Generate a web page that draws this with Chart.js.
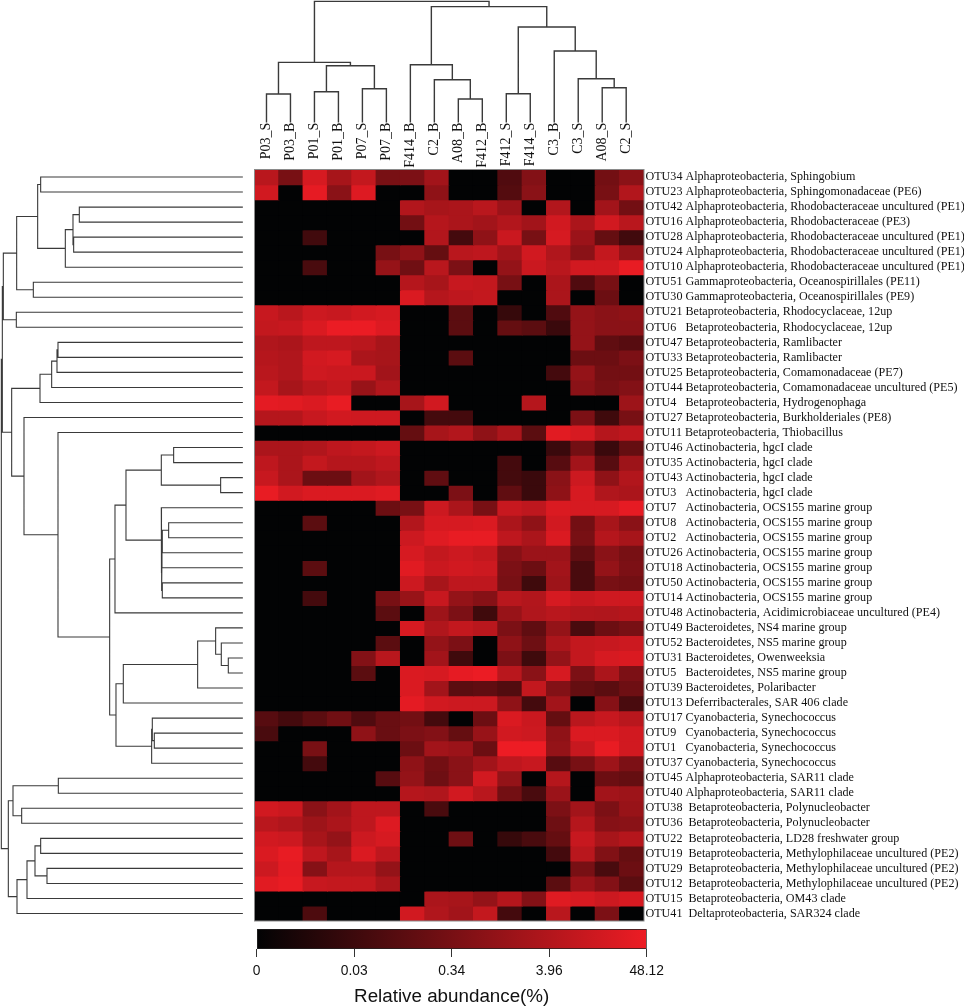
<!DOCTYPE html>
<html><head><meta charset="utf-8">
<style>
html,body{margin:0;padding:0;background:#fff;width:964px;height:1008px;overflow:hidden}
canvas{position:absolute;display:block}
</style>
<script src="https://cdn.jsdelivr.net/npm/chart.js@4/dist/chart.umd.min.js"></script>
</head><body>
<canvas id="top" style="left:254px;top:0;width:390px;height:172px" width="390" height="172"></canvas>
<canvas id="left" style="left:0;top:169px;width:243px;height:753px" width="243" height="753"></canvas>
<canvas id="heat" style="left:254px;top:159px;width:710px;height:773px" width="710" height="773"></canvas>
<canvas id="bar" style="left:230px;top:920px;width:450px;height:88px" width="450" height="88"></canvas>
<script>
const sampleLabels = ["P03_S","P03_B","P01_S","P01_B","P07_S","P07_B","F414_B","C2_B","A08_B","F412_B","F412_S","F414_S","C3_B","C3_S","A08_S","C2_S"];
const otuLabels = [
"OTU34 Alphaproteobacteria, Sphingobium",
"OTU23 Alphaproteobacteria, Sphingomonadaceae (PE6)",
"OTU42 Alphaproteobacteria, Rhodobacteraceae uncultured (PE1)",
"OTU16 Alphaproteobacteria, Rhodobacteraceae (PE3)",
"OTU28 Alphaproteobacteria, Rhodobacteraceae uncultured (PE1)",
"OTU24 Alphaproteobacteria, Rhodobacteraceae uncultured (PE1)",
"OTU10 Alphaproteobacteria, Rhodobacteraceae uncultured (PE1)",
"OTU51 Gammaproteobacteria, Oceanospirillales (PE11)",
"OTU30 Gammaproteobacteria, Oceanospirillales (PE9)",
"OTU21 Betaproteobacteria, Rhodocyclaceae, 12up",
"OTU6   Betaproteobacteria, Rhodocyclaceae, 12up",
"OTU47 Betaproteobacteria, Ramlibacter",
"OTU33 Betaproteobacteria, Ramlibacter",
"OTU25 Betaproteobacteria, Comamonadaceae (PE7)",
"OTU44 Betaproteobacteria, Comamonadaceae uncultured (PE5)",
"OTU4   Betaproteobacteria, Hydrogenophaga",
"OTU27 Betaproteobacteria, Burkholderiales (PE8)",
"OTU11 Betaproteobacteria, Thiobacillus",
"OTU46 Actinobacteria, hgcI clade",
"OTU35 Actinobacteria, hgcI clade",
"OTU43 Actinobacteria, hgcI clade",
"OTU3   Actinobacteria, hgcI clade",
"OTU7   Actinobacteria, OCS155 marine group",
"OTU8   Actinobacteria, OCS155 marine group",
"OTU2   Actinobacteria, OCS155 marine group",
"OTU26 Actinobacteria, OCS155 marine group",
"OTU18 Actinobacteria, OCS155 marine group",
"OTU50 Actinobacteria, OCS155 marine group",
"OTU14 Actinobacteria, OCS155 marine group",
"OTU48 Actinobacteria, Acidimicrobiaceae uncultured (PE4)",
"OTU49 Bacteroidetes, NS4 marine group",
"OTU52 Bacteroidetes, NS5 marine group",
"OTU31 Bacteroidetes, Owenweeksia",
"OTU5   Bacteroidetes, NS5 marine group",
"OTU39 Bacteroidetes, Polaribacter",
"OTU13 Deferribacterales, SAR 406 clade",
"OTU17 Cyanobacteria, Synechococcus",
"OTU9   Cyanobacteria, Synechococcus",
"OTU1   Cyanobacteria, Synechococcus",
"OTU37 Cyanobacteria, Synechococcus",
"OTU45 Alphaproteobacteria, SAR11 clade",
"OTU40 Alphaproteobacteria, SAR11 clade",
"OTU38  Betaproteobacteria, Polynucleobacter",
"OTU36  Betaproteobacteria, Polynucleobacter",
"OTU22  Betaproteobacteria, LD28 freshwater group",
"OTU19  Betaproteobacteria, Methylophilaceae uncultured (PE2)",
"OTU29  Betaproteobacteria, Methylophilaceae uncultured (PE2)",
"OTU12  Betaproteobacteria, Methylophilaceae uncultured (PE2)",
"OTU15  Betaproteobacteria, OM43 clade",
"OTU41  Deltaproteobacteria, SAR324 clade"];
// colour-scale position of each cell (0 = abundance 0, 100 = abundance 48.12)
const heatValues = [
[78,50,90,70,82,50,52,68,0,0,33,55,0,0,48,58],
[88,0,97,58,93,0,0,60,0,0,35,58,0,0,50,75],
[0,0,0,0,0,0,75,70,72,78,65,0,75,0,68,48],
[0,0,0,0,0,0,48,76,72,68,75,68,88,72,88,78],
[0,0,27,0,0,0,0,75,28,60,85,50,90,65,42,27],
[0,0,0,0,0,50,60,42,78,80,68,88,74,58,82,62],
[0,0,30,0,0,63,47,78,52,0,62,85,78,88,88,98],
[0,0,0,0,0,0,76,70,84,82,50,0,72,33,50,0],
[0,0,0,0,0,0,92,76,80,82,0,0,72,0,45,0],
[84,78,86,84,88,90,0,0,38,0,22,0,33,62,58,60],
[82,84,92,99,99,93,0,0,38,0,42,38,24,62,58,58],
[74,72,80,80,78,70,0,0,0,0,0,0,0,62,40,36],
[76,74,88,90,72,70,0,0,38,0,0,0,0,45,45,52],
[78,74,87,85,85,68,0,0,0,0,0,0,28,62,48,48],
[82,70,78,82,64,75,0,0,0,0,0,0,0,58,50,55],
[96,95,92,98,0,0,70,88,0,0,0,76,0,0,0,66],
[76,76,84,88,87,87,0,28,28,0,0,0,0,52,26,50],
[0,0,0,0,0,0,42,70,75,60,72,38,95,90,76,80],
[72,72,74,80,82,86,0,0,0,0,0,0,24,48,24,42],
[80,72,82,76,76,80,0,0,0,0,28,0,36,68,36,66],
[84,72,45,45,68,74,0,40,0,0,28,24,58,86,60,75],
[98,88,92,92,92,94,0,0,52,0,40,24,60,90,74,72],
[0,0,0,0,0,45,50,86,72,50,84,80,92,90,90,97],
[0,0,38,0,0,0,75,90,90,92,72,60,88,48,70,58],
[0,0,0,0,0,0,86,94,98,98,80,72,92,50,76,70],
[0,0,0,0,0,0,90,82,86,82,56,65,65,40,58,50],
[0,0,38,0,0,0,95,85,88,86,52,45,68,30,62,52],
[0,0,0,0,0,0,86,70,80,80,50,26,66,30,50,48],
[0,0,28,0,0,50,64,84,62,56,78,75,90,84,87,87],
[0,0,0,0,0,38,0,66,52,26,64,74,78,75,74,76],
[0,0,0,0,0,0,90,74,82,78,52,40,62,30,45,50],
[0,0,0,0,0,38,0,62,52,0,60,46,72,82,84,86],
[0,0,0,0,55,78,0,68,26,0,52,26,62,82,90,92],
[0,0,0,0,38,0,92,90,97,99,78,58,90,52,72,52],
[0,0,0,0,0,0,92,68,38,40,34,82,55,42,38,46],
[0,0,0,0,0,0,96,88,86,86,60,28,68,0,56,30],
[36,28,38,47,33,44,48,28,0,45,92,85,42,78,84,78],
[30,0,0,0,60,44,52,55,42,64,88,86,60,92,92,88],
[0,0,50,0,0,0,45,68,65,45,100,100,62,84,98,88],
[0,0,28,0,0,0,60,48,58,68,80,84,36,50,66,52],
[0,0,0,0,0,36,62,46,58,88,62,0,76,0,45,42],
[0,0,0,0,0,0,76,74,88,78,48,30,65,0,68,66],
[88,85,58,68,80,80,0,30,0,0,0,0,52,68,52,64],
[78,74,66,72,80,93,0,0,0,0,0,0,46,76,56,58],
[88,86,70,62,86,90,0,0,46,0,22,30,42,84,70,76],
[92,98,80,70,92,80,0,0,0,0,0,0,28,78,54,42],
[86,96,56,76,76,62,0,0,0,0,0,0,0,50,30,45],
[95,98,84,82,82,72,0,0,0,0,0,0,38,65,55,38],
[0,0,0,0,0,0,0,72,70,62,76,55,94,90,86,90],
[0,0,32,0,0,0,88,74,68,82,28,0,78,0,52,0]];
// linkage trees: [childA, childB, distance]; ids below 100 are leaves, 100+k is merge k
const sampleMerges = [[0,1,83],[2,3,90],[4,5,99],[101,102,168],[100,103,178],[8,9,68],[7,105,126],[6,106,171],[10,11,84],[14,15,102],[13,109,129],[12,110,212],[108,111,284],[107,112,345],[104,113,361]];
const otuMerges = [[0,1,605],[2,3,489],[4,5,506],[101,102,508],[103,6,531],[100,104,614],[7,8,627],[105,106,677],[9,10,678],[107,108,717],[11,12,553],[110,13,556],[111,14,572],[112,15,607],[18,19,206],[20,21,65],[114,115,243],[23,24,221],[117,25,240],[118,26,241],[27,28,240],[119,120,242],[22,121,243],[116,122,349],[123,29,382],[32,33,42],[31,125,63],[30,126,80],[127,34,134],[128,35,357],[37,38,264],[36,130,270],[131,39,272],[129,132,379],[124,133,398],[17,134,553],[16,135,655],[113,136,692],[109,137,720],[40,41,552],[42,43,662],[139,140,688],[44,45,605],[46,47,586],[142,143,622],[144,48,646],[145,49,676],[141,146,702],[138,147,723]];
const scaleTickValues = [0,25,50,75,100];
const scaleTickLabels = ["0","0.03","0.34","3.96","48.12"];

const LOW=[2,3,4], HIGH=[237,28,36];
const colorOf = v => { const t=v/100; return `rgb(${LOW.map((c,i)=>Math.round(c+(HIGH[i]-c)*t)).join(',')})`; };
const SERIF='"Liberation Serif"', SANS='"Liberation Sans"';
Chart.defaults.animation=false;
Chart.defaults.responsive=false;
Chart.defaults.plugins.legend.display=false;
Chart.defaults.plugins.tooltip.enabled=false;

function treePaths(merges){
  const pos={}, out=[];
  const at=id=> id<100 ? {p:id,d:0} : pos[id];
  merges.forEach((m,k)=>{
    const a=at(m[0]), b=at(m[1]), d=m[2];
    out.push([a.d,a.p],[d,a.p],[d,b.p],[b.d,b.p],[null,null]);
    pos[100+k]={p:(a.p+b.p)/2,d};
  });
  return out;
}
const DENDRO={borderColor:'#3a3a3a',pointRadius:0,showLine:true,spanGaps:false,clip:false,borderCapStyle:'square'};

// top dendrogram with sample labels
new Chart(document.getElementById('top'),{type:'scatter',
  data:{datasets:[Object.assign({data:treePaths(sampleMerges).map(([d,p])=>({x:p,y:d})),borderWidth:1.4},DENDRO)]},
  options:{layout:{padding:{left:0.5,right:0.5,top:0,bottom:0}},
    scales:{
      x:{type:'linear',min:-0.5,max:15.5,position:'bottom',grid:{display:false,drawTicks:false,tickLength:0},border:{display:false},
        afterBuildTicks:s=>{s.ticks=sampleLabels.map((_,i)=>({value:i}));},
        afterFit:s=>{s.height=50.3;},
        ticks:{autoSkip:false,minRotation:90,maxRotation:90,padding:1,color:'#111',font:{family:SERIF,size:14},callback:v=>sampleLabels[v]}},
      y:{type:'linear',min:0,max:365,display:false}}}});

// left dendrogram
new Chart(document.getElementById('left'),{type:'scatter',
  data:{datasets:[Object.assign({data:treePaths(otuMerges).map(([d,p])=>({x:d,y:p})),borderWidth:1.1},DENDRO)]},
  options:{layout:{padding:{left:0,right:0.7,top:0.5,bottom:1}},
    scales:{
      x:{type:'linear',min:0,max:727,reverse:true,display:false},
      y:{type:'linear',min:-0.5,max:49.5,reverse:true,display:false}}}});

// heat map: one floating-bar dataset per OTU row
const frame={id:'frame',afterDraw(c){const a=c.chartArea,x=c.ctx;x.save();x.strokeStyle='#8a8a8a';x.lineWidth=1;x.strokeRect(a.left,a.top,a.right-a.left,a.bottom-a.top);x.restore();}};
new Chart(document.getElementById('heat'),{type:'bar',plugins:[frame],
  data:{labels:sampleLabels,
    datasets:heatValues.map((row,r)=>({label:otuLabels[r],data:row.map(()=>[r-0.5,r+0.5]),backgroundColor:row.map(colorOf),borderWidth:0,inflateAmount:0.6,barPercentage:1,categoryPercentage:1,grouped:false}))},
  options:{layout:{padding:{left:0.5,top:10.5,bottom:11,right:0}},
    scales:{
      x:{type:'category',display:false,offset:true,grid:{display:false}},
      y:{type:'linear',min:-0.5,max:49.5,reverse:true,position:'right',grid:{display:false,drawTicks:false,tickLength:0},border:{display:false},
        afterBuildTicks:s=>{s.ticks=otuLabels.map((_,i)=>({value:i}));},
        afterFit:s=>{s.width=320;},
        ticks:{autoSkip:false,padding:1.5,color:'#111',font:{family:SERIF,size:12.1},callback:v=>otuLabels[v]}}}}});

// colour scale
new Chart(document.getElementById('bar'),{type:'bar',
  data:{labels:['scale'],datasets:[{data:[[0,100]],barPercentage:1,categoryPercentage:1,borderWidth:1,borderColor:'#222',borderSkipped:false,
    backgroundColor:c=>{const a=c.chart.chartArea;if(!a)return '#000';const g=c.chart.ctx.createLinearGradient(a.left,0,a.right,0);g.addColorStop(0,colorOf(0));g.addColorStop(1,colorOf(100));return g;}}]},
  options:{indexAxis:'y',layout:{padding:{left:26.7,right:33.3,top:9,bottom:0}},
    scales:{
      y:{type:'category',display:false},
      x:{type:'linear',min:0,max:100,position:'bottom',border:{display:false},
        grid:{drawOnChartArea:false,drawTicks:true,tickLength:8,color:'#333'},
        afterBuildTicks:s=>{s.ticks=scaleTickValues.map(v=>({value:v}));},
        afterFit:s=>{s.height=59;},
        title:{display:true,text:'Relative abundance(%)',color:'#111',font:{family:SANS,size:18.8},padding:{top:5,bottom:0}},
        ticks:{autoSkip:false,maxRotation:0,padding:6,color:'#111',font:{family:SANS,size:13.8},callback:v=>scaleTickLabels[scaleTickValues.indexOf(v)]}}}}});
</script>
</body></html>
